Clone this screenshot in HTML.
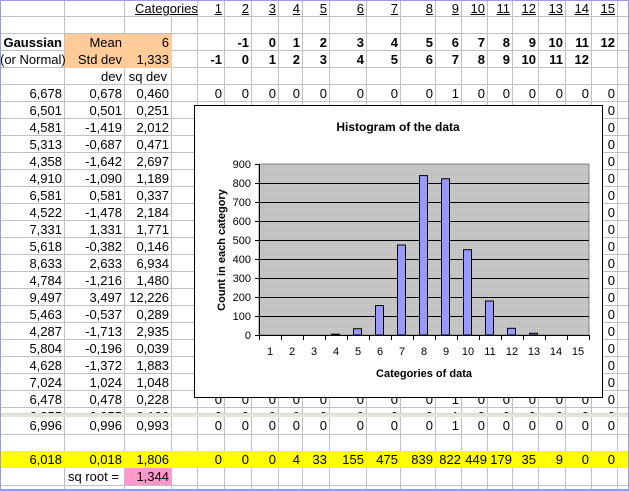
<!DOCTYPE html>
<html><head><meta charset="utf-8">
<style>
*{margin:0;padding:0;box-sizing:border-box}
body{width:629px;height:491px;background:#fff;position:relative;overflow:hidden;font-family:"Liberation Sans",Arial,sans-serif;font-size:13px;color:#000}
.sec{position:absolute;left:0;width:629px;overflow:hidden}
.v{position:absolute;top:0;width:1px;height:100%;background:#c0c0c0}
.t{position:absolute;height:17px;line-height:17px;text-align:right;padding-right:3px;white-space:nowrap}
.b{font-weight:bold}
.u{text-decoration:underline}
.hl{position:absolute;left:0;width:629px;height:1px;background:#c0c0c0}
</style></head><body>

<div class="sec" style="top:0;height:413px;background:repeating-linear-gradient(to bottom,transparent 0,transparent 16px,#c0c0c0 16px,#c0c0c0 17px)">
<div class="v" style="left:64px"></div><div class="v" style="left:124px"></div><div class="v" style="left:171px"></div><div class="v" style="left:197px"></div><div class="v" style="left:224px"></div><div class="v" style="left:251px"></div><div class="v" style="left:278px"></div><div class="v" style="left:302px"></div><div class="v" style="left:329px"></div><div class="v" style="left:366px"></div><div class="v" style="left:400px"></div><div class="v" style="left:435px"></div><div class="v" style="left:461px"></div><div class="v" style="left:487px"></div><div class="v" style="left:512px"></div><div class="v" style="left:538px"></div><div class="v" style="left:565px"></div><div class="v" style="left:591px"></div><div class="v" style="left:617px"></div>

<div style="position:absolute;left:65px;top:34px;width:107px;height:34px;background:#ffcc99"></div>

<div style="position:absolute;left:126px;top:0;width:71px;height:16px;background:#fff"></div>
<div class="t u" style="left:135px;top:0;padding:0;text-align:left">Categories</div>
<div class="t u" style="left:198px;top:0;width:27px">1</div>
<div class="t u" style="left:225px;top:0;width:27px">2</div>
<div class="t u" style="left:252px;top:0;width:27px">3</div>
<div class="t u" style="left:279px;top:0;width:24px">4</div>
<div class="t u" style="left:303px;top:0;width:27px">5</div>
<div class="t u" style="left:330px;top:0;width:37px">6</div>
<div class="t u" style="left:367px;top:0;width:34px">7</div>
<div class="t u" style="left:401px;top:0;width:35px">8</div>
<div class="t u" style="left:436px;top:0;width:26px">9</div>
<div class="t u" style="left:462px;top:0;width:26px">10</div>
<div class="t u" style="left:488px;top:0;width:25px">11</div>
<div class="t u" style="left:513px;top:0;width:26px">12</div>
<div class="t u" style="left:539px;top:0;width:27px">13</div>
<div class="t u" style="left:566px;top:0;width:26px">14</div>
<div class="t u" style="left:592px;top:0;width:26px">15</div>

<div class="t b" style="left:0;top:34px;width:65px">Gaussian</div>
<div class="t" style="left:65px;top:34px;width:60px">Mean</div>
<div class="t" style="left:125px;top:34px;width:47px">6</div>
<div class="t b" style="left:225px;top:34px;width:27px">-1</div>
<div class="t b" style="left:252px;top:34px;width:27px">0</div>
<div class="t b" style="left:279px;top:34px;width:24px">1</div>
<div class="t b" style="left:303px;top:34px;width:27px">2</div>
<div class="t b" style="left:330px;top:34px;width:37px">3</div>
<div class="t b" style="left:367px;top:34px;width:34px">4</div>
<div class="t b" style="left:401px;top:34px;width:35px">5</div>
<div class="t b" style="left:436px;top:34px;width:26px">6</div>
<div class="t b" style="left:462px;top:34px;width:26px">7</div>
<div class="t b" style="left:488px;top:34px;width:25px">8</div>
<div class="t b" style="left:513px;top:34px;width:26px">9</div>
<div class="t b" style="left:539px;top:34px;width:27px">10</div>
<div class="t b" style="left:566px;top:34px;width:26px">11</div>
<div class="t b" style="left:592px;top:34px;width:26px">12</div>
<div class="t" style="left:0;top:51px;width:65px">(or Normal)</div>
<div class="t" style="left:65px;top:51px;width:60px">Std dev</div>
<div class="t" style="left:125px;top:51px;width:47px">1,333</div>
<div class="t b" style="left:198px;top:51px;width:27px">-1</div>
<div class="t b" style="left:225px;top:51px;width:27px">0</div>
<div class="t b" style="left:252px;top:51px;width:27px">1</div>
<div class="t b" style="left:279px;top:51px;width:24px">2</div>
<div class="t b" style="left:303px;top:51px;width:27px">3</div>
<div class="t b" style="left:330px;top:51px;width:37px">4</div>
<div class="t b" style="left:367px;top:51px;width:34px">5</div>
<div class="t b" style="left:401px;top:51px;width:35px">6</div>
<div class="t b" style="left:436px;top:51px;width:26px">7</div>
<div class="t b" style="left:462px;top:51px;width:26px">8</div>
<div class="t b" style="left:488px;top:51px;width:25px">9</div>
<div class="t b" style="left:513px;top:51px;width:26px">10</div>
<div class="t b" style="left:539px;top:51px;width:27px">11</div>
<div class="t b" style="left:566px;top:51px;width:26px">12</div>
<div class="t" style="left:65px;top:68px;width:60px">dev</div>
<div class="t" style="left:125px;top:68px;width:47px;padding-right:5px">sq dev</div>

<div class="t" style="left:0;top:85px;width:65px">6,678</div><div class="t" style="left:65px;top:85px;width:60px">0,678</div><div class="t" style="left:125px;top:85px;width:47px">0,460</div>
<div class="t" style="left:0;top:102px;width:65px">6,501</div><div class="t" style="left:65px;top:102px;width:60px">0,501</div><div class="t" style="left:125px;top:102px;width:47px">0,251</div>
<div class="t" style="left:0;top:119px;width:65px">4,581</div><div class="t" style="left:65px;top:119px;width:60px">-1,419</div><div class="t" style="left:125px;top:119px;width:47px">2,012</div>
<div class="t" style="left:0;top:136px;width:65px">5,313</div><div class="t" style="left:65px;top:136px;width:60px">-0,687</div><div class="t" style="left:125px;top:136px;width:47px">0,471</div>
<div class="t" style="left:0;top:153px;width:65px">4,358</div><div class="t" style="left:65px;top:153px;width:60px">-1,642</div><div class="t" style="left:125px;top:153px;width:47px">2,697</div>
<div class="t" style="left:0;top:170px;width:65px">4,910</div><div class="t" style="left:65px;top:170px;width:60px">-1,090</div><div class="t" style="left:125px;top:170px;width:47px">1,189</div>
<div class="t" style="left:0;top:187px;width:65px">6,581</div><div class="t" style="left:65px;top:187px;width:60px">0,581</div><div class="t" style="left:125px;top:187px;width:47px">0,337</div>
<div class="t" style="left:0;top:204px;width:65px">4,522</div><div class="t" style="left:65px;top:204px;width:60px">-1,478</div><div class="t" style="left:125px;top:204px;width:47px">2,184</div>
<div class="t" style="left:0;top:221px;width:65px">7,331</div><div class="t" style="left:65px;top:221px;width:60px">1,331</div><div class="t" style="left:125px;top:221px;width:47px">1,771</div>
<div class="t" style="left:0;top:238px;width:65px">5,618</div><div class="t" style="left:65px;top:238px;width:60px">-0,382</div><div class="t" style="left:125px;top:238px;width:47px">0,146</div>
<div class="t" style="left:0;top:255px;width:65px">8,633</div><div class="t" style="left:65px;top:255px;width:60px">2,633</div><div class="t" style="left:125px;top:255px;width:47px">6,934</div>
<div class="t" style="left:0;top:272px;width:65px">4,784</div><div class="t" style="left:65px;top:272px;width:60px">-1,216</div><div class="t" style="left:125px;top:272px;width:47px">1,480</div>
<div class="t" style="left:0;top:289px;width:65px">9,497</div><div class="t" style="left:65px;top:289px;width:60px">3,497</div><div class="t" style="left:125px;top:289px;width:47px">12,226</div>
<div class="t" style="left:0;top:306px;width:65px">5,463</div><div class="t" style="left:65px;top:306px;width:60px">-0,537</div><div class="t" style="left:125px;top:306px;width:47px">0,289</div>
<div class="t" style="left:0;top:323px;width:65px">4,287</div><div class="t" style="left:65px;top:323px;width:60px">-1,713</div><div class="t" style="left:125px;top:323px;width:47px">2,935</div>
<div class="t" style="left:0;top:340px;width:65px">5,804</div><div class="t" style="left:65px;top:340px;width:60px">-0,196</div><div class="t" style="left:125px;top:340px;width:47px">0,039</div>
<div class="t" style="left:0;top:357px;width:65px">4,628</div><div class="t" style="left:65px;top:357px;width:60px">-1,372</div><div class="t" style="left:125px;top:357px;width:47px">1,883</div>
<div class="t" style="left:0;top:374px;width:65px">7,024</div><div class="t" style="left:65px;top:374px;width:60px">1,024</div><div class="t" style="left:125px;top:374px;width:47px">1,048</div>
<div class="t" style="left:0;top:391px;width:65px">6,478</div><div class="t" style="left:65px;top:391px;width:60px">0,478</div><div class="t" style="left:125px;top:391px;width:47px">0,228</div>
<div class="t" style="left:0;top:408px;width:65px">6,355</div><div class="t" style="left:65px;top:408px;width:60px">0,355</div><div class="t" style="left:125px;top:408px;width:47px">0,126</div>

<div style="position:absolute;left:0;top:85px;width:629px;height:17px">
<div class="t" style="left:198px;width:27px">0</div><div class="t" style="left:225px;width:27px">0</div><div class="t" style="left:252px;width:27px">0</div><div class="t" style="left:279px;width:24px">0</div><div class="t" style="left:303px;width:27px">0</div><div class="t" style="left:330px;width:37px">0</div><div class="t" style="left:367px;width:34px">0</div><div class="t" style="left:401px;width:35px">0</div><div class="t" style="left:436px;width:26px">1</div><div class="t" style="left:462px;width:26px">0</div><div class="t" style="left:488px;width:25px">0</div><div class="t" style="left:513px;width:26px">0</div><div class="t" style="left:539px;width:27px">0</div><div class="t" style="left:566px;width:26px">0</div><div class="t" style="left:592px;width:26px">0</div></div>
<div style="position:absolute;left:0;top:391px;width:629px;height:17px">
<div class="t" style="left:198px;width:27px">0</div><div class="t" style="left:225px;width:27px">0</div><div class="t" style="left:252px;width:27px">0</div><div class="t" style="left:279px;width:24px">0</div><div class="t" style="left:303px;width:27px">0</div><div class="t" style="left:330px;width:37px">0</div><div class="t" style="left:367px;width:34px">0</div><div class="t" style="left:401px;width:35px">0</div><div class="t" style="left:436px;width:26px">1</div><div class="t" style="left:462px;width:26px">0</div><div class="t" style="left:488px;width:25px">0</div><div class="t" style="left:513px;width:26px">0</div><div class="t" style="left:539px;width:27px">0</div><div class="t" style="left:566px;width:26px">0</div><div class="t" style="left:592px;width:26px">0</div></div>
<div style="position:absolute;left:0;top:408px;width:629px;height:17px">
<div class="t" style="left:198px;width:27px">0</div><div class="t" style="left:225px;width:27px">0</div><div class="t" style="left:252px;width:27px">0</div><div class="t" style="left:279px;width:24px">0</div><div class="t" style="left:303px;width:27px">0</div><div class="t" style="left:330px;width:37px">0</div><div class="t" style="left:367px;width:34px">0</div><div class="t" style="left:401px;width:35px">0</div><div class="t" style="left:436px;width:26px">1</div><div class="t" style="left:462px;width:26px">0</div><div class="t" style="left:488px;width:25px">0</div><div class="t" style="left:513px;width:26px">0</div><div class="t" style="left:539px;width:27px">0</div><div class="t" style="left:566px;width:26px">0</div><div class="t" style="left:592px;width:26px">0</div></div>
<div class="t" style="left:592px;top:102px;width:26px">0</div><div class="t" style="left:592px;top:119px;width:26px">0</div><div class="t" style="left:592px;top:136px;width:26px">0</div><div class="t" style="left:592px;top:153px;width:26px">0</div><div class="t" style="left:592px;top:170px;width:26px">0</div><div class="t" style="left:592px;top:187px;width:26px">0</div><div class="t" style="left:592px;top:204px;width:26px">0</div><div class="t" style="left:592px;top:221px;width:26px">0</div><div class="t" style="left:592px;top:238px;width:26px">0</div><div class="t" style="left:592px;top:255px;width:26px">0</div><div class="t" style="left:592px;top:272px;width:26px">0</div><div class="t" style="left:592px;top:289px;width:26px">0</div><div class="t" style="left:592px;top:306px;width:26px">0</div><div class="t" style="left:592px;top:323px;width:26px">0</div><div class="t" style="left:592px;top:340px;width:26px">0</div><div class="t" style="left:592px;top:357px;width:26px">0</div><div class="t" style="left:592px;top:374px;width:26px">0</div>

<svg style="position:absolute;left:194px;top:105px" width="410" height="294" viewBox="194 105 410 294" font-family="Liberation Sans, Arial, sans-serif">
<defs><pattern id="dp" width="2" height="2" patternUnits="userSpaceOnUse"><rect width="2" height="2" fill="#c0c0c0"/><rect width="1" height="1" fill="#d0d0d0"/></pattern></defs>
<rect x="194.5" y="105.5" width="408" height="292" fill="#fff" stroke="#000" stroke-width="1"/>
<text x="398" y="131" font-size="12" font-weight="bold" text-anchor="middle">Histogram of the data</text>
<rect x="259" y="164" width="330" height="171" fill="url(#dp)" stroke="#808080" stroke-width="1"/>
<g stroke="#000" stroke-width="1">
<line x1="259" y1="183.5" x2="589" y2="183.5"/><line x1="259" y1="202.5" x2="589" y2="202.5"/><line x1="259" y1="221.5" x2="589" y2="221.5"/><line x1="259" y1="240.5" x2="589" y2="240.5"/><line x1="259" y1="259.5" x2="589" y2="259.5"/><line x1="259" y1="278.5" x2="589" y2="278.5"/><line x1="259" y1="297.5" x2="589" y2="297.5"/><line x1="259" y1="316.5" x2="589" y2="316.5"/>
<line x1="259.5" y1="164" x2="259.5" y2="335"/>
<line x1="255" y1="164.5" x2="259" y2="164.5"/><line x1="255" y1="183.5" x2="259" y2="183.5"/><line x1="255" y1="202.5" x2="259" y2="202.5"/><line x1="255" y1="221.5" x2="259" y2="221.5"/><line x1="255" y1="240.5" x2="259" y2="240.5"/><line x1="255" y1="259.5" x2="259" y2="259.5"/><line x1="255" y1="278.5" x2="259" y2="278.5"/><line x1="255" y1="297.5" x2="259" y2="297.5"/><line x1="255" y1="316.5" x2="259" y2="316.5"/><line x1="255" y1="335.5" x2="259" y2="335.5"/>
<line x1="259" y1="335.5" x2="589" y2="335.5"/>
<line x1="259.5" y1="335" x2="259.5" y2="340"/><line x1="281.5" y1="335" x2="281.5" y2="340"/><line x1="303.5" y1="335" x2="303.5" y2="340"/><line x1="325.5" y1="335" x2="325.5" y2="340"/><line x1="347.5" y1="335" x2="347.5" y2="340"/><line x1="369.5" y1="335" x2="369.5" y2="340"/><line x1="391.5" y1="335" x2="391.5" y2="340"/><line x1="413.5" y1="335" x2="413.5" y2="340"/><line x1="435.5" y1="335" x2="435.5" y2="340"/><line x1="457.5" y1="335" x2="457.5" y2="340"/><line x1="479.5" y1="335" x2="479.5" y2="340"/><line x1="501.5" y1="335" x2="501.5" y2="340"/><line x1="523.5" y1="335" x2="523.5" y2="340"/><line x1="545.5" y1="335" x2="545.5" y2="340"/><line x1="567.5" y1="335" x2="567.5" y2="340"/><line x1="589.5" y1="335" x2="589.5" y2="340"/>
</g>
<g fill="#9999ff" stroke="#000" stroke-width="1">
<rect x="331.5" y="334.2" width="8" height="0.8"/>
<rect x="353.5" y="328.7" width="8" height="6.3"/>
<rect x="375.5" y="305.5" width="8" height="29.5"/>
<rect x="397.5" y="245" width="8" height="90"/>
<rect x="419.5" y="175.6" width="8" height="159.4"/>
<rect x="441.5" y="178.8" width="8" height="156.2"/>
<rect x="463.5" y="249.7" width="8" height="85.3"/>
<rect x="485.5" y="301" width="8" height="34"/>
<rect x="507.5" y="328.3" width="8" height="6.7"/>
<rect x="529.5" y="333.3" width="8" height="1.7"/>
</g>
<g font-size="11" text-anchor="end">
<text x="251" y="168">900</text><text x="251" y="187">800</text><text x="251" y="206">700</text><text x="251" y="225">600</text><text x="251" y="244">500</text><text x="251" y="263">400</text><text x="251" y="282">300</text><text x="251" y="301">200</text><text x="251" y="320">100</text><text x="251" y="339">0</text>
</g>
<g font-size="11" text-anchor="middle">
<text x="270" y="355">1</text><text x="292" y="355">2</text><text x="314" y="355">3</text><text x="336" y="355">4</text><text x="358" y="355">5</text><text x="380" y="355">6</text><text x="402" y="355">7</text><text x="424" y="355">8</text><text x="446" y="355">9</text><text x="468" y="355">10</text><text x="490" y="355">11</text><text x="512" y="355">12</text><text x="534" y="355">13</text><text x="556" y="355">14</text><text x="578" y="355">15</text>
</g>
<text x="424" y="377" font-size="11" font-weight="bold" text-anchor="middle">Categories of data</text>
<text transform="translate(225,250) rotate(-90)" font-size="11" font-weight="bold" text-anchor="middle">Count in each category</text>
</svg>
</div>

<div style="position:absolute;left:0;top:413px;width:629px;height:4px;background:#e4e4d8;border-top:1px solid #d8d8cc"></div>

<div class="sec" style="top:417px;height:74px">
<div class="hl" style="top:17px"></div><div class="hl" style="top:34px"></div><div class="hl" style="top:68px"></div>
<div class="v" style="left:64px"></div><div class="v" style="left:124px"></div><div class="v" style="left:171px"></div><div class="v" style="left:197px"></div><div class="v" style="left:224px"></div><div class="v" style="left:251px"></div><div class="v" style="left:278px"></div><div class="v" style="left:302px"></div><div class="v" style="left:329px"></div><div class="v" style="left:366px"></div><div class="v" style="left:400px"></div><div class="v" style="left:435px"></div><div class="v" style="left:461px"></div><div class="v" style="left:487px"></div><div class="v" style="left:512px"></div><div class="v" style="left:538px"></div><div class="v" style="left:565px"></div><div class="v" style="left:591px"></div><div class="v" style="left:617px"></div>
<div style="position:absolute;left:0;top:0;width:629px;height:17px">
<div class="t" style="left:0;width:65px">6,996</div><div class="t" style="left:65px;width:60px">0,996</div><div class="t" style="left:125px;width:47px">0,993</div>
<div class="t" style="left:198px;width:27px">0</div><div class="t" style="left:225px;width:27px">0</div><div class="t" style="left:252px;width:27px">0</div><div class="t" style="left:279px;width:24px">0</div><div class="t" style="left:303px;width:27px">0</div><div class="t" style="left:330px;width:37px">0</div><div class="t" style="left:367px;width:34px">0</div><div class="t" style="left:401px;width:35px">0</div><div class="t" style="left:436px;width:26px">1</div><div class="t" style="left:462px;width:26px">0</div><div class="t" style="left:488px;width:25px">0</div><div class="t" style="left:513px;width:26px">0</div><div class="t" style="left:539px;width:27px">0</div><div class="t" style="left:566px;width:26px">0</div><div class="t" style="left:592px;width:26px">0</div></div>
<div style="position:absolute;left:0;top:34px;width:629px;height:17px;background:#ffff00">
<div class="t" style="left:0;width:65px">6,018</div><div class="t" style="left:65px;width:60px">0,018</div><div class="t" style="left:125px;width:47px">1,806</div>
<div class="t" style="left:198px;width:27px">0</div><div class="t" style="left:225px;width:27px">0</div><div class="t" style="left:252px;width:27px">0</div><div class="t" style="left:279px;width:24px">4</div><div class="t" style="left:303px;width:27px">33</div><div class="t" style="left:330px;width:37px">155</div><div class="t" style="left:367px;width:34px">475</div><div class="t" style="left:401px;width:35px">839</div><div class="t" style="left:436px;width:26px;padding-right:1px">822</div><div class="t" style="left:462px;width:26px;padding-right:1px">449</div><div class="t" style="left:488px;width:25px;padding-right:1px">179</div><div class="t" style="left:513px;width:26px">35</div><div class="t" style="left:539px;width:27px">9</div><div class="t" style="left:566px;width:26px">0</div><div class="t" style="left:592px;width:26px">0</div></div>
<div style="position:absolute;left:125px;top:51px;width:47px;height:17px;background:#ff99cc"></div>
<div class="t" style="left:68px;top:51px;padding:0;text-align:left">sq root =</div>
<div class="t" style="left:125px;top:51px;width:47px">1,344</div>
</div>

<div style="position:absolute;left:0;top:0;width:629px;height:1px;background:#9999ee"></div>
<div style="position:absolute;left:0;top:0;width:1px;height:491px;background:#9999ee"></div>
<div style="position:absolute;left:628px;top:0;width:1px;height:491px;background:#9999ee"></div>
<div style="position:absolute;left:0;top:489px;width:629px;height:2px;background:#9999ee"></div>
</body></html>
